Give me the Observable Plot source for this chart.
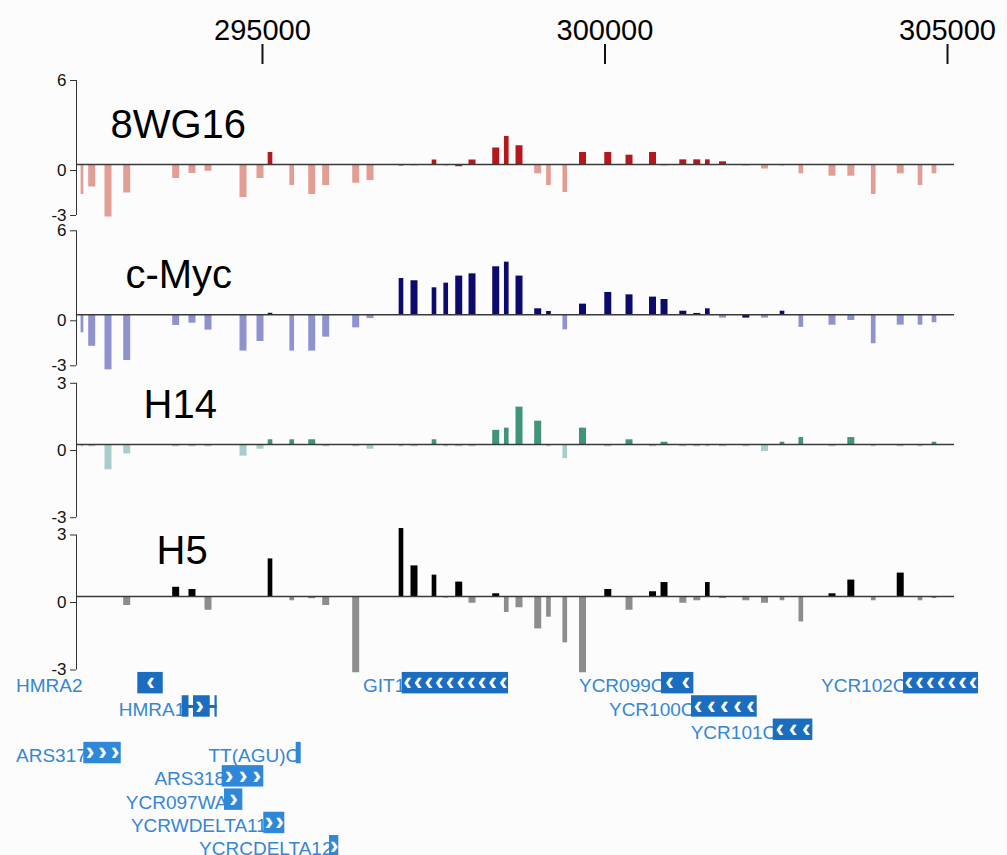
<!DOCTYPE html>
<html><head><meta charset="utf-8">
<script src="https://cdn.jsdelivr.net/npm/d3@7"></script>
<script src="https://cdn.jsdelivr.net/npm/@observablehq/plot@0.6"></script>
<style>
html,body{margin:0;padding:0;background:#fcfcfc;overflow:hidden;}
#chart{position:relative;width:1007px;height:855px;font-family:"Liberation Sans",Arial,sans-serif;}
#chart svg{position:absolute;left:0;overflow:visible;background:transparent;}
</style></head><body><div id="chart"></div>
<script>
// ---- data ----
const xDomain = [292285, 305102];
const xTicks = [295000, 300000, 305000];

const probeCenter = [292372, 292514, 292752, 293025, 293740, 293978, 294212, 294723, 294971, 295117,
  295434, 295726, 295930, 296368, 296577, 297029, 297219, 297511, 297682, 297872,
  298066, 298412, 298566, 298752, 299025, 299182, 299420, 299679, 300048, 300358,
  300701, 300869, 301143, 301347, 301501, 301723, 302063, 302336, 302591, 302866,
  303321, 303596, 303923, 304317, 304606, 304810];
const probeLength = [40, 102, 102, 102, 102, 102, 102, 102, 102, 68,
  68, 102, 102, 102, 102, 68, 102, 68, 68, 102,
  102, 102, 68, 102, 102, 68, 68, 102, 102, 102,
  102, 102, 102, 102, 68, 102, 102, 102, 68, 68,
  102, 102, 68, 102, 68, 68];

const val8WG16 = [-2.0, -1.5, -3.5, -1.9, -0.93, -0.6, -0.45, -2.2, -0.93, 0.8,
  -1.4, -2.0, -1.4, -1.25, -1.07, -0.1, -0.1, 0.3, -0.1, -0.15,
  0.3, 1.1, 1.87, 1.25, -0.62, -1.4, -1.87, 0.8, 0.8, 0.62,
  0.8, -0.1, 0.31, 0.31, 0.31, 0.18, -0.1, -0.3, -0.1, -0.62,
  -0.78, -0.78, -2.0, -0.62, -1.4, -0.62];
const valCMyc = [-1.2, -2.1, -3.67, -3.05, -0.71, -0.56, -1.02, -2.42, -1.78, 0.1,
  -2.42, -2.42, -1.49, -0.87, -0.25, 2.42, 2.27, 1.8, 2.11, 2.58,
  2.73, 3.2, 3.51, 2.58, 0.4, 0.22, -1.0, 0.71, 1.49, 1.33,
  1.18, 1.02, 0.24, 0.09, 0.4, -0.22, -0.22, -0.22, 0.24, -0.84,
  -0.69, -0.38, -1.93, -0.69, -0.69, -0.53];
const valH14 = [-0.1, -0.1, -1.13, -0.42, -0.1, -0.1, -0.1, -0.52, -0.21, 0.21,
  0.21, 0.21, -0.1, -0.1, -0.21, -0.1, -0.1, 0.21, -0.1, -0.1,
  -0.1, 0.63, 0.73, 1.67, 1.04, -0.1, -0.63, 0.73, -0.1, 0.21,
  -0.1, 0.1, -0.1, -0.1, -0.1, -0.1, -0.1, -0.31, 0.1, 0.31,
  -0.1, 0.31, -0.1, -0.1, -0.1, 0.1];
const valH5 = [null, null, null, -0.4, 0.41, 0.31, -0.61, null, null, 1.67,
  -0.19, -0.1, -0.4, -3.39, null, 3.02, 1.36, 0.95, -0.07, 0.64,
  -0.3, 0.12, -0.71, -0.5, -1.44, -0.92, -2.06, -3.39, 0.31, -0.61,
  0.21, 0.62, -0.3, -0.19, 0.62, -0.09, -0.19, -0.3, -0.19, -1.13,
  0.12, 0.73, -0.19, 1.04, -0.19, -0.09];
// probes drawn in the enriched colour although slightly below zero
const dark8WG16 = [15, 19];
const darkCMyc = [36];

const geneNames = ["HMRA2", "GIT1", "YCR099C", "YCR102C", "HMRA1", "YCR100C", "YCR101C",
  "ARS317", "TT(AGU)C", "ARS318", "YCR097WA", "YCRWDELTA11", "YCRCDELTA12"];
const geneStart = [293180, 297040, 300825, 304358, 293828, 301263, 302456, 292392, 295492, 294412, 294446, 295019, 295978];
const geneEnd = [293551, 298592, 301297, 305453, 294339, 302222, 303034, 292938, 295565, 295019, 294713, 295326, 296114];
const geneStrand = ["-", "-", "-", "-", "+", "-", "-", "+", "+", "+", "+", "+", "+"];
const geneRow = [1, 1, 1, 1, 2, 2, 3, 4, 4, 5, 6, 7, 8];
const geneKind = ["orf", "orf", "orf", "orf", "orf", "orf", "orf", "other", "other", "other", "other", "other", "other"];
const geneArrows = [1, 10, 2, 7, 1, 5, 3, 3, 0, 3, 1, 2, 1];
const geneLabelAt = [292330, null, null, null, null, null, null, null, null, null, null, null, null];
const hmra1Exons = [[293828, 293927], [293993, 294237], [294307, 294339]];

// ---- drawing ----
const chart = document.getElementById("chart");
const FONT = '"Liberation Sans", Arial, sans-serif';
const W = 1007, ML = 76, MR = 53;

function place(svg, top) {
  svg.style.top = top + "px";
  chart.appendChild(svg);
}

// top coordinate axis
place(Plot.plot({
  width: W, height: 65, marginTop: 63, marginBottom: 2, marginLeft: ML, marginRight: MR,
  style: {background: "transparent", fontFamily: FONT, overflow: "visible"},
  x: {domain: xDomain},
  marks: [
    Plot.axisX({anchor: "top", ticks: xTicks, tickSize: 20, tickPadding: 4, fontSize: 29,
      strokeWidth: 2, stroke: "#111", label: null, tickFormat: d => String(d)})
  ]
}), 0);

const tracks = [
  {name: "8WG16", values: val8WG16, darkBelow: dark8WG16, lo: -3, hi: 6, ticks: [-3, 0, 6],
   dark: "#b3181c", light: "#e29d95", baseline: 164, scale: 15, ldx: 34, lby: 63},
  {name: "c-Myc", values: valCMyc, darkBelow: darkCMyc, lo: -3, hi: 6, ticks: [-3, 0, 6],
   dark: "#0d0a6e", light: "#8f93cd", baseline: 314.3, scale: 15, ldx: 49, lby: 62.7},
  {name: "H14", values: valH14, darkBelow: [], lo: -3, hi: 3, ticks: [-3, 0, 3],
   dark: "#3f947b", light: "#a9cdcd", baseline: 444, scale: 22.4, ldx: 67, lby: 40.2},
  {name: "H5", values: valH5, darkBelow: [], lo: -3, hi: 3, ticks: [-3, 0, 3],
   dark: "#000000", light: "#8d8d8d", baseline: 596, scale: 22.5, ldx: 80, lby: 34.5}
];

for (const t of tracks) {
  const data = probeCenter.map((c, i) => ({c, len: probeLength[i], v: t.values[i],
      dark: t.values[i] > 0 || t.darkBelow.includes(i)}))
    .filter(d => d.v != null && d.v !== 0);
  const frameTop = t.baseline - t.scale * t.hi;
  const top = Math.floor(frameTop) - 10;
  const mt = frameTop - top;
  const mb = 30;
  const height = mt + t.scale * (t.hi - t.lo) + mb;
  const svg = Plot.plot({
    width: W, height, marginLeft: ML, marginRight: MR, marginTop: mt, marginBottom: mb,
    style: {background: "transparent", fontFamily: FONT, overflow: "visible"},
    x: {domain: xDomain, axis: null},
    y: {domain: [t.lo, t.hi]},
    marks: [
      Plot.rect(data, {x1: d => d.c - d.len / 2, x2: d => d.c + d.len / 2, y1: () => 0, y2: "v",
        fill: d => d.dark ? t.dark : t.light}),
      Plot.ruleY([0], {stroke: "#3a3a3a", strokeWidth: 1.5}),
      Plot.axisY({ticks: t.ticks, tickSize: 6, tickPadding: 4, fontSize: 17, dy: 6,
        stroke: "#333", fill: "#111", label: null, tickFormat: d => String(d)}),
      Plot.ruleX([xDomain[0]], {y1: () => t.lo, y2: () => t.hi, dy: 6, stroke: "#333"}),
      Plot.text([t.name], {frameAnchor: "top-left", textAnchor: "start", lineAnchor: "top",
        dx: t.ldx, dy: t.lby - 28.4, fontSize: 40, fill: "#000"})
    ]
  });
  place(svg, top);
}

// gene annotation track
const genes = geneNames.map((name, i) => ({name, x1: geneStart[i], x2: geneEnd[i],
  strand: geneStrand[i], row: geneRow[i], kind: geneKind[i], arrows: geneArrows[i],
  labelAt: geneLabelAt[i] ?? geneStart[i]}));
const boxes = genes.flatMap(g => (g.name === "HMRA1" ? hmra1Exons : [[g.x1, g.x2]])
  .map(([a, b]) => ({...g, a, b})));
const introns = genes.filter(g => g.name === "HMRA1");
const chevrons = genes.flatMap(g => d3.range(g.arrows).map(k =>
  ({...g, xc: g.x1 + (k + 0.5) * (g.x2 - g.x1) / g.arrows})));
const geneColor = k => k === "orf" ? "#1a6dbf" : "#2f87da";

place(Plot.plot({
  width: W, height: 186, marginLeft: ML, marginRight: MR, marginTop: 0, marginBottom: 0,
  style: {background: "transparent", fontFamily: FONT, overflow: "visible"},
  x: {domain: xDomain, axis: null},
  y: {domain: [0.5, 8.5], range: [0, 186.4], axis: null},
  marks: [
    Plot.text(genes, {x: "labelAt", y: "row", text: "name", textAnchor: "end", dx: 3, dy: 3,
      fontSize: 19, fill: "#3586d4"}),
    Plot.ruleY(introns, {x1: "x1", x2: "x2", y: "row", stroke: "#1a6dbf", strokeWidth: 3}),
    Plot.rect(boxes, {x1: "a", x2: "b", y1: d => d.row - 0.46, y2: d => d.row + 0.46,
      fill: d => geneColor(d.kind)}),
    Plot.text(chevrons, {x: "xc", y: "row", text: d => d.strand === "-" ? "‹" : "›",
      fill: "white", fontSize: 26, fontWeight: "bold", dy: -1})
  ]
}), 671);
</script></body></html>
